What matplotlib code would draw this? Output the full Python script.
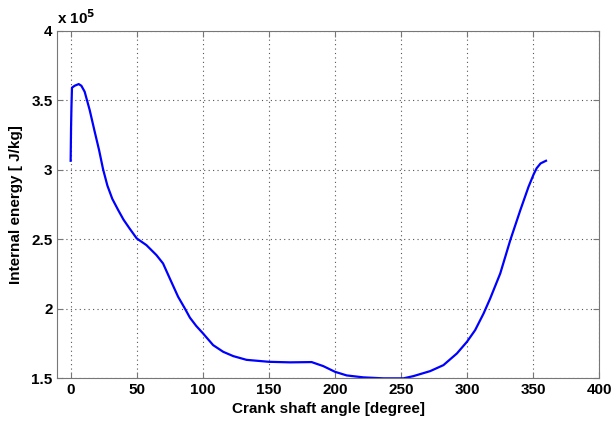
import matplotlib
matplotlib.use("Agg")
import matplotlib.pyplot as plt
from matplotlib.ticker import FuncFormatter

plt.rcParams['font.family'] = ['Liberation Sans', 'DejaVu Sans']
plt.rcParams['font.weight'] = 'bold'

# crank angle [degree] and internal energy [x 1e5 J/kg]
angle = [0, 0.3, 0.6, 1.0, 3.0, 6.1, 8.1, 10.6, 14.4, 18.2, 21.5, 24.5, 27.8,
         31.5, 35.8, 40, 44.7, 50, 57.3, 64.9, 69.9, 75, 81.3, 86.4, 90.2, 95,
         99.8, 107.8, 115.4, 123, 133.1, 150, 165.9, 182.3, 191.1, 200,
         208.8, 221.4, 236.6, 251.8, 259.3, 272, 282, 292.2, 299.8, 306,
         312.4, 317.4, 325, 332.6, 340.2, 346.4, 350.2, 352.5, 355.5, 359.6]
energy = [3.064, 3.30, 3.45, 3.59, 3.604, 3.616, 3.604, 3.561, 3.429, 3.273,
          3.141, 3.004, 2.885, 2.790, 2.712, 2.640, 2.575, 2.505, 2.457,
          2.385, 2.325, 2.217, 2.085, 2.001, 1.935, 1.875, 1.825, 1.737,
          1.689, 1.658, 1.631, 1.617, 1.613, 1.615, 1.586, 1.545, 1.519,
          1.505, 1.498, 1.498, 1.514, 1.550, 1.593, 1.677, 1.761, 1.845,
          1.965, 2.073, 2.253, 2.493, 2.709, 2.877, 2.965, 3.010, 3.045,
          3.064]

xticks = [0, 50, 100, 150, 200, 250, 300, 350, 400]
yticks = [1.5, 2, 2.5, 3, 3.5, 4]

fig = plt.figure(figsize=(6.11, 4.21), dpi=100)
ax = fig.add_axes([0.094, 0.102, 0.887, 0.825])

ax.plot(angle, energy, color=(0, 0, 1), lw=1.6, solid_joinstyle='round')

ax.set_xlim(-10, 400)
ax.set_ylim(1.5, 4)
ax.set_xticks(xticks)
ax.set_yticks(yticks)
ax.yaxis.set_major_formatter(FuncFormatter(lambda v, p: '%g' % v))
ax.grid(True, linestyle=(0, (1, 3)), color='#555555', linewidth=0.8)
ax.tick_params(direction='in', top=True, right=True, length=4, labelsize=11,
               color='#777777')
for s in ax.spines.values():
    s.set_color('#777777')

ax.set_xlabel('Crank shaft angle [degree]', fontsize=11, fontweight='bold',
              labelpad=4)
ax.set_ylabel('Internal energy [ J/kg]', fontsize=11, fontweight='bold',
              labelpad=6)
ax.text(0.0, 1.01, 'x 10$^{\\mathbf{5}}$', transform=ax.transAxes,
        fontsize=11, fontweight='bold', ha='left', va='bottom')

fig.savefig('out.png', dpi=100)
